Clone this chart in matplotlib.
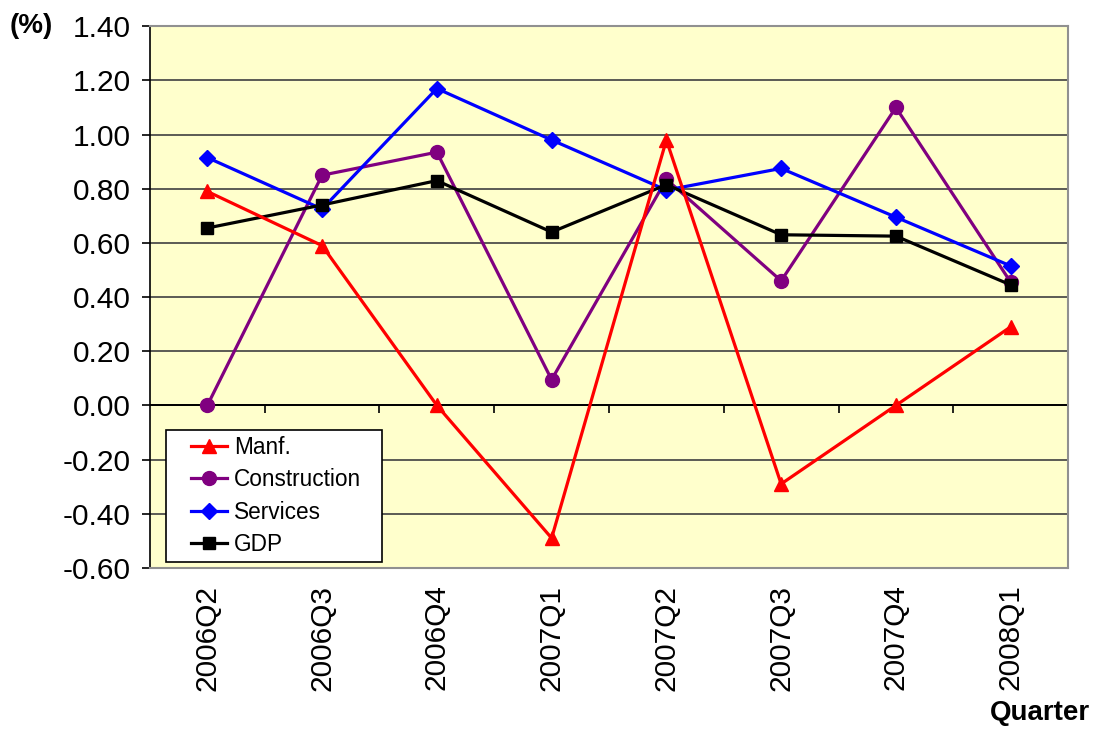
#!/usr/bin/env python3
import matplotlib.pyplot as plt
from matplotlib.patches import Rectangle

plt.rcParams["font.family"] = ["Liberation Sans", "DejaVu Sans"]

# quarterly growth (%)
quarters = ["2006Q2", "2006Q3", "2006Q4", "2007Q1", "2007Q2", "2007Q3", "2007Q4", "2008Q1"]
manf = [0.79, 0.59, 0.00, -0.49, 0.98, -0.29, 0.00, 0.29]
construction = [0.00, 0.85, 0.935, 0.095, 0.835, 0.46, 1.10, 0.455]
services = [0.915, 0.725, 1.17, 0.98, 0.795, 0.875, 0.695, 0.515]
gdp = [0.655, 0.74, 0.83, 0.64, 0.815, 0.63, 0.625, 0.445]
yticks = [-0.6, -0.4, -0.2, 0.0, 0.2, 0.4, 0.6, 0.8, 1.0, 1.2, 1.4]

fig = plt.figure(figsize=(10.97, 7.29), dpi=100)
ax = fig.add_axes([0.1367, 0.221, 0.8369, 0.743])
ax.set_facecolor("#FFFFCC")

x = list(range(len(quarters)))
ax.plot(x, construction, color="#800080", marker="o", markersize=10, linewidth=2.3, label="Construction", zorder=3)
ax.plot(x, services, color="#0000FF", marker="D", markersize=8, linewidth=2.3, label="Services", zorder=4)
ax.plot(x, gdp, color="black", marker="s", markersize=9, linewidth=2.3, label="GDP", zorder=5)
ax.plot(x, manf, color="#FF0000", marker="^", markersize=10, linewidth=2.3, label="Manf.", zorder=6)

ax.set_xlim(-0.5, len(quarters) - 0.5)
ax.set_ylim(-0.6, 1.4)
ax.set_yticks(yticks)
ax.set_yticklabels([f"{v:.2f}" for v in yticks], fontsize=21.5)
for v in yticks:
    ax.axhline(v, color="#404040", linewidth=1.2, zorder=1)
ax.axhline(0, color="black", linewidth=1.4, zorder=2)

ax.set_xticks(x)
ax.set_xticklabels(quarters, rotation=90, fontsize=21.5)
ax.tick_params(axis="x", length=0, pad=12)
ax.tick_params(axis="y", direction="out", length=6, width=1.2, color="black", pad=8)

# category boundary ticks on the zero line
zero_ax = ax.secondary_xaxis(0.3)
zero_ax.set_xticks([i + 0.5 for i in range(len(quarters) - 1)])
zero_ax.set_xticklabels([])
zero_ax.tick_params(direction="out", length=6, width=1.2, color="black")
zero_ax.spines["bottom"].set_visible(False)

for side in ["top", "right", "bottom"]:
    ax.spines[side].set_color("#909090")
    ax.spines[side].set_linewidth(1.5)
ax.spines["left"].set_color("black")
ax.spines["left"].set_linewidth(1.2)

# legend box (Excel style, wide side padding)
ax.add_patch(Rectangle((0.0174, 0.0111), 0.2353, 0.2435, transform=ax.transAxes,
                       facecolor="white", edgecolor="black", linewidth=1.2, zorder=7))
handles, labels = ax.get_legend_handles_labels()
order = [3, 0, 1, 2]
leg = ax.legend([handles[i] for i in order], [labels[i] for i in order],
                loc="center left", bbox_to_anchor=(0.045, 0.133), fontsize=16.3,
                frameon=False, handlelength=1.6, labelspacing=0.42, borderpad=0,
                handletextpad=0.3, borderaxespad=0)
leg.set_zorder(8)

fig.text(0.009, 0.965, "(%)", fontsize=20, fontweight="bold", ha="left", va="center")
fig.text(0.994, 0.022, "Quarter", fontsize=20, fontweight="bold", ha="right", va="center")

fig.savefig("out.png", dpi=100)
